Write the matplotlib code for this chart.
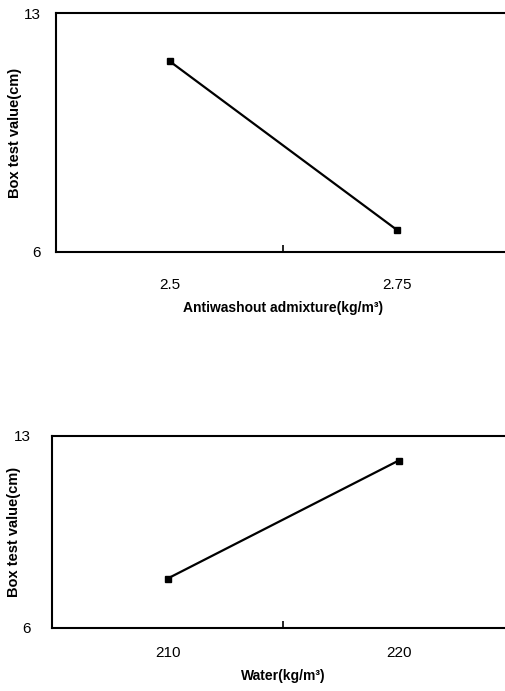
import matplotlib
matplotlib.use("Agg")
import matplotlib.pyplot as plt

plt.rcParams['font.family'] = ['Liberation Sans', 'DejaVu Sans']

# top panel: antiwashout admixture
admix_x = [2.5, 2.75]
admix_y = [11.6, 6.65]
admix_ticks = [2.5, 2.75]
admix_labels = ["2.5", "2.75"]

# bottom panel: water
water_x = [210, 220]
water_y = [7.8, 12.1]
water_ticks = [210, 220]
water_labels = ["210", "220"]

y_ticks = [6, 13]


def style_axes(ax, xlim, xticks, xlabels, mid, xlabel, ypad, xpad, ylab_x, xlab_y):
    ax.set_xlim(*xlim)
    ax.set_ylim(6, 13)
    ax.set_xticks(xticks)
    ax.set_xticklabels(xlabels)
    ax.set_xticks([mid], minor=True)
    ax.tick_params(axis='x', which='major', length=0, pad=xpad, labelsize=11)
    ax.tick_params(axis='x', which='minor', direction='in', length=5, width=1.2)
    ax.set_yticks(y_ticks)
    ax.tick_params(axis='y', length=0, pad=ypad, labelsize=11)
    for s in ax.spines.values():
        s.set_linewidth(1.5)
    ax.spines['right'].set_visible(False)
    ax.set_xlabel(xlabel, fontsize=10, fontweight='bold')
    ax.set_ylabel("Box test value(cm)", fontsize=10.5, fontweight='bold')
    ax.xaxis.set_label_coords(0.5, xlab_y)
    ax.yaxis.set_label_coords(ylab_x, 0.5)


fig = plt.figure(figsize=(5.06, 6.91), dpi=100)

ax1 = fig.add_axes([0.1107, 0.6357, 0.8972, 0.3448])
ax1.plot(admix_x, admix_y, color='black', linewidth=1.6, marker='s', markersize=5)
style_axes(ax1, (2.375, 2.875), admix_ticks, admix_labels, 2.625,
           "Antiwashout admixture(kg/m³)", 11, 19, -0.075, -0.205)

ax2 = fig.add_axes([0.1028, 0.0912, 0.913, 0.2779])
ax2.plot(water_x, water_y, color='black', linewidth=1.6, marker='s', markersize=5)
style_axes(ax2, (205, 225), water_ticks, water_labels, 215,
           "Water(kg/m³)", 15, 13, -0.068, -0.215)

fig.savefig("out.png", dpi=100)
